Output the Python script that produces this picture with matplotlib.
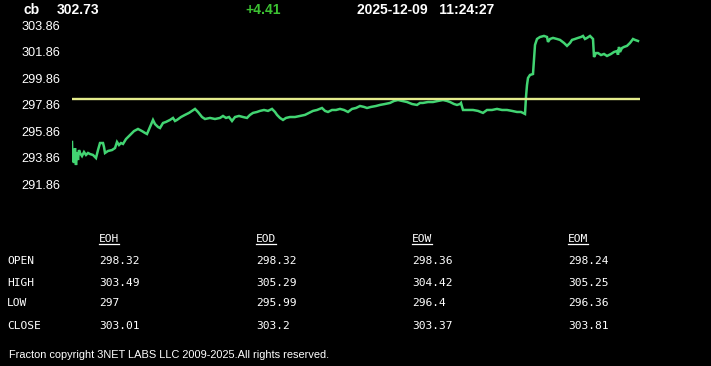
import matplotlib
matplotlib.use("Agg")
import matplotlib.pyplot as plt
from matplotlib.lines import Line2D

# ---------------- data ----------------
symbol = "cb"
last_price = "302.73"
change = "+4.41"
date_str = "2025-12-09"
time_str = "11:24:27"

# time index (minutes from session start) and price
t = [0, 0.5, 1, 2, 3, 4, 5, 6, 7, 8, 10, 12, 14, 16, 18, 21, 24, 26, 28, 31, 32, 33,
     36, 40, 43, 45, 47, 49, 51, 54, 56, 59, 62, 66, 70, 73, 75, 78, 81, 83, 86, 88,
     91, 94, 98, 101, 103, 105, 109, 113, 117, 120, 123, 126, 130, 133, 138, 143,
     148, 151, 154, 157, 160, 163, 167, 171, 175, 178, 181, 185, 188, 192, 196, 200,
     203, 205, 208, 211, 214, 218, 223, 228, 233, 237, 241, 245, 250, 253, 256, 260,
     264, 268, 272, 276, 280, 284, 288, 292, 295, 299, 304, 308, 313, 318, 322, 326,
     330, 335, 340, 345, 348, 351, 356, 361, 366, 371, 375, 378, 382, 385, 388, 389,
     391, 396, 401, 406, 411, 415, 420, 425, 430, 435, 440, 445, 449, 453, 454, 455,
     456, 458, 461, 463, 465, 468, 472, 475, 476, 478, 481, 485, 488, 492, 495, 498,
     500, 503, 506, 509, 511, 513, 515, 518, 520, 521, 522, 524, 526, 529, 532, 535,
     539, 542, 545, 546, 547, 548, 550, 552, 555, 558, 561, 563, 566]
price = [295.05, 293.54, 294.44, 293.46, 294.59, 293.31, 294.29, 293.69, 294.44, 294.22,
         293.99, 294.29, 294.07, 294.22, 294.14, 294.07, 293.84, 294.44, 294.97, 294.97,
         294.67, 294.22, 294.37, 294.44, 294.59, 295.05, 294.82, 294.97, 294.90, 295.27,
         295.42, 295.65, 295.87, 296.03, 295.87, 295.73, 295.65, 296.18, 296.71, 296.40,
         296.18, 296.10, 296.48, 296.56, 296.71, 296.86, 296.63, 296.71, 296.93, 297.09,
         297.24, 297.39, 297.54, 297.31, 296.93, 296.78, 296.86, 296.78, 296.86, 297.01,
         296.86, 296.93, 296.63, 296.93, 297.01, 296.93, 296.86, 297.09, 297.24, 297.31,
         297.39, 297.46, 297.39, 297.54, 297.31, 297.09, 296.86, 296.71, 296.86, 296.93,
         296.93, 297.01, 297.09, 297.24, 297.39, 297.46, 297.61, 297.39, 297.31, 297.46,
         297.46, 297.54, 297.46, 297.31, 297.54, 297.61, 297.76, 297.69, 297.61, 297.69,
         297.76, 297.84, 297.91, 297.99, 298.14, 298.21, 298.14, 298.06, 297.91, 297.84,
         297.99, 297.99, 298.06, 298.06, 298.14, 298.21, 298.14, 298.06, 297.91, 297.84,
         297.91, 297.99, 297.46, 297.46, 297.46, 297.39, 297.24, 297.46, 297.46, 297.54,
         297.46, 297.46, 297.39, 297.31, 297.31, 297.16, 298.44, 299.34, 299.87, 300.10,
         300.17, 302.36, 302.81, 302.96, 303.04, 302.96, 302.59, 302.81, 302.89, 302.81,
         302.74, 302.51, 302.29, 302.51, 302.74, 302.81, 302.89, 302.96, 303.04, 302.81,
         302.89, 303.04, 302.89, 302.81, 301.45, 301.75, 301.75, 301.60, 301.68, 301.53,
         301.68, 301.83, 301.90, 301.62, 302.21, 301.83, 302.13, 302.21, 302.29, 302.51,
         302.81, 302.74, 302.66]
open_level = 298.32
session_end = 568

yticks = [291.86, 293.86, 295.86, 297.86, 299.86, 301.86, 303.86]

col_labels = ["EOH", "EOD", "EOW", "EOM"]
row_labels = ["OPEN", "HIGH", "LOW", "CLOSE"]
table_vals = [
    ["298.32", "298.32", "298.36", "298.24"],
    ["303.49", "305.29", "304.42", "305.25"],
    ["297", "295.99", "296.4", "296.36"],
    ["303.01", "303.2", "303.37", "303.81"],
]
footer = "Fracton copyright 3NET LABS LLC 2009-2025.All rights reserved."

# ---------------- figure ----------------
W, H = 711, 366
fig = plt.figure(figsize=(W / 100, H / 100), dpi=100, facecolor="black")

def fx(px):
    return px / W

def fy(py):
    return 1 - py / H

sans = ["Liberation Sans", "DejaVu Sans"]
mono = ["DejaVu Sans Mono"]

line_color = "#42d472"
yellow = "#e4ec8c"

ax = fig.add_axes([fx(72), fy(190), fx(640) - fx(72), (190 - 20) / H])
ax.set_facecolor("black")
ax.plot(t, price, color=line_color, lw=1.8, solid_joinstyle="miter")
ax.plot([0, session_end], [open_level, open_level], color=yellow, lw=1.7)
ax.set_xlim(0, session_end)
ax.set_ylim(291.43, 304.24)
ax.set_xticks([])
ax.set_yticks(yticks)
ax.set_yticklabels([f"{v:.2f}" for v in yticks])
ax.tick_params(axis="y", length=0, pad=36.5, colors="white", labelsize=9.2)
for lbl in ax.get_yticklabels():
    lbl.set_horizontalalignment("left")
    lbl.set_fontfamily(sans)
for s in ax.spines.values():
    s.set_visible(False)

# header
hdr = dict(fontsize=10, fontweight="bold", family=sans, va="baseline")
fig.text(fx(23), fy(13.5), symbol, color="white", **hdr)
fig.text(fx(57), fy(13.5), last_price, color="white", **hdr)
fig.text(fx(245), fy(13.5), change, color="#3cc232", **hdr)
fig.text(fx(357), fy(13.5), date_str + "   " + time_str, color="white", **hdr)

# table
col_x = [99, 256, 412, 568]
row_y = [264, 285.5, 306.5, 329]
tbl = dict(fontsize=8.1, family=mono, color="white", va="baseline")
head_texts = []
for cx, lab in zip(col_x, col_labels):
    head_texts.append(fig.text(fx(cx), fy(242), lab, **tbl))
for ry, rl, vals in zip(row_y, row_labels, table_vals):
    fig.text(fx(7), fy(ry), rl, **tbl)
    for cx, v in zip(col_x, vals):
        fig.text(fx(cx), fy(ry), v, **tbl)

fig.canvas.draw()
renderer = fig.canvas.get_renderer()
for ht in head_texts:
    bb = ht.get_window_extent(renderer)
    fig.add_artist(Line2D([bb.x0 / W, bb.x1 / W], [fy(244), fy(244)],
                          transform=fig.transFigure, color="white", lw=0.9))

fig.text(fx(9), fy(358), footer, fontsize=7.9, family=["Liberation Sans Narrow", "Liberation Sans"],
         color="white", va="baseline")

fig.savefig("out.png", dpi=100, facecolor="black")
